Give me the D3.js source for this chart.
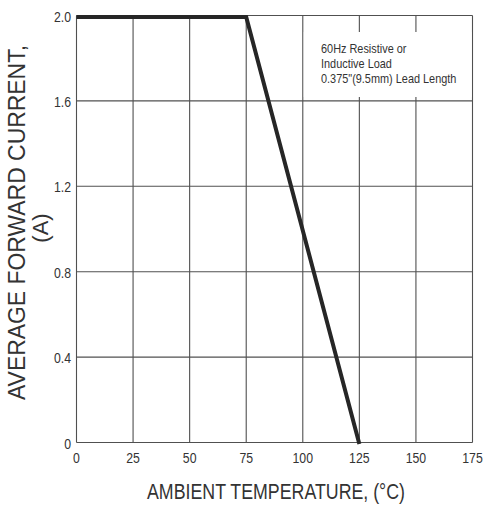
<!DOCTYPE html>
<html>
<head>
<meta charset="utf-8">
<script src="https://cdn.jsdelivr.net/npm/d3@7"></script>
<style>
  html, body { margin: 0; padding: 0; background: #fff; }
  svg { display: block; }
</style>
</head>
<body>
<svg id="chart" width="484" height="506"></svg>
<script>
// ---- data ----
const temperature = [0, 75, 125];
const current = [2.0, 2.0, 0];
const xTicks = [0, 25, 50, 75, 100, 125, 150, 175];
const yTicks = [0, 0.4, 0.8, 1.2, 1.6, 2.0];
const yTickLabels = ["0", "0.4", "0.8", "1.2", "1.6", "2.0"];
const noteLines = ["60Hz Resistive or", "Inductive Load", "0.375\"(9.5mm) Lead Length"];
const xTitle = "AMBIENT TEMPERATURE, (°C)";
const yTitle = ["AVERAGE FORWARD CURRENT,", "(A)"];

const sans = "'Liberation Sans', Arial, sans-serif";
const NARROW = 0.82; // horizontal compression to mimic a narrow face

const svg = d3.select("#chart");
const x = d3.scaleLinear().domain([0, 175]).range([76.5, 472.5]);
const y = d3.scaleLinear().domain([0, 2]).range([442.5, 15.5]);

const gridColor = "#505050";

// vertical grid
svg.append("g").selectAll("line").data(xTicks).join("line")
  .attr("x1", d => x(d)).attr("x2", d => x(d))
  .attr("y1", y(2)).attr("y2", y(0))
  .attr("stroke", gridColor).attr("stroke-width", 1.1);

// horizontal grid
svg.append("g").selectAll("line").data(yTicks).join("line")
  .attr("x1", x(0)).attr("x2", x(175))
  .attr("y1", d => y(d)).attr("y2", d => y(d))
  .attr("stroke", gridColor).attr("stroke-width", 1.1);

// annotation box (white, hides grid)
svg.append("rect")
  .attr("x", x(100) + 1).attr("y", 32)
  .attr("width", x(175) - x(100) - 2).attr("height", 65)
  .attr("fill", "#fff");

svg.append("g").selectAll("text").data(noteLines).join("text")
  .attr("transform", (d, i) => `translate(321,${53 + i * 15}) scale(${NARROW},1)`)
  .attr("font-family", sans).attr("font-size", 13.3)
  .attr("fill", "#333")
  .text(d => d);

// data line
svg.append("path")
  .datum(temperature.map((t, i) => [t, current[i]]))
  .attr("d", d3.line().x(d => x(d[0])).y(d => y(d[1]) + 1.5))
  .attr("fill", "none").attr("stroke", "#262626")
  .attr("stroke-width", 4).attr("stroke-linejoin", "miter");

// x tick labels
svg.append("g").selectAll("text").data(xTicks).join("text")
  .attr("transform", d => `translate(${x(d)},463) scale(${NARROW},1)`)
  .attr("text-anchor", "middle")
  .attr("font-family", sans).attr("font-size", 15)
  .attr("fill", "#333")
  .text(d => d);

// y tick labels
svg.append("g").selectAll("text").data(yTicks).join("text")
  .attr("transform", d => `translate(71,${y(d) + 6}) scale(${NARROW},1)`)
  .attr("text-anchor", "end")
  .attr("font-family", sans).attr("font-size", 15)
  .attr("fill", "#333")
  .text((d, i) => yTickLabels[i]);

// x title
svg.append("text")
  .attr("x", 147).attr("y", 499)
  .attr("font-family", sans).attr("font-size", 22)
  .attr("textLength", 258).attr("lengthAdjust", "spacingAndGlyphs")
  .attr("fill", "#333")
  .text(xTitle);

// y title
svg.append("text")
  .attr("transform", "translate(25,400) rotate(-90)")
  .attr("font-family", sans).attr("font-size", 23)
  .attr("textLength", 355).attr("lengthAdjust", "spacingAndGlyphs")
  .attr("fill", "#333")
  .text(yTitle[0]);
svg.append("text")
  .attr("transform", "translate(48,228) rotate(-90)")
  .attr("text-anchor", "middle")
  .attr("font-family", sans).attr("font-size", 22)
  .attr("fill", "#333")
  .text(yTitle[1]);
</script>
</body>
</html>
